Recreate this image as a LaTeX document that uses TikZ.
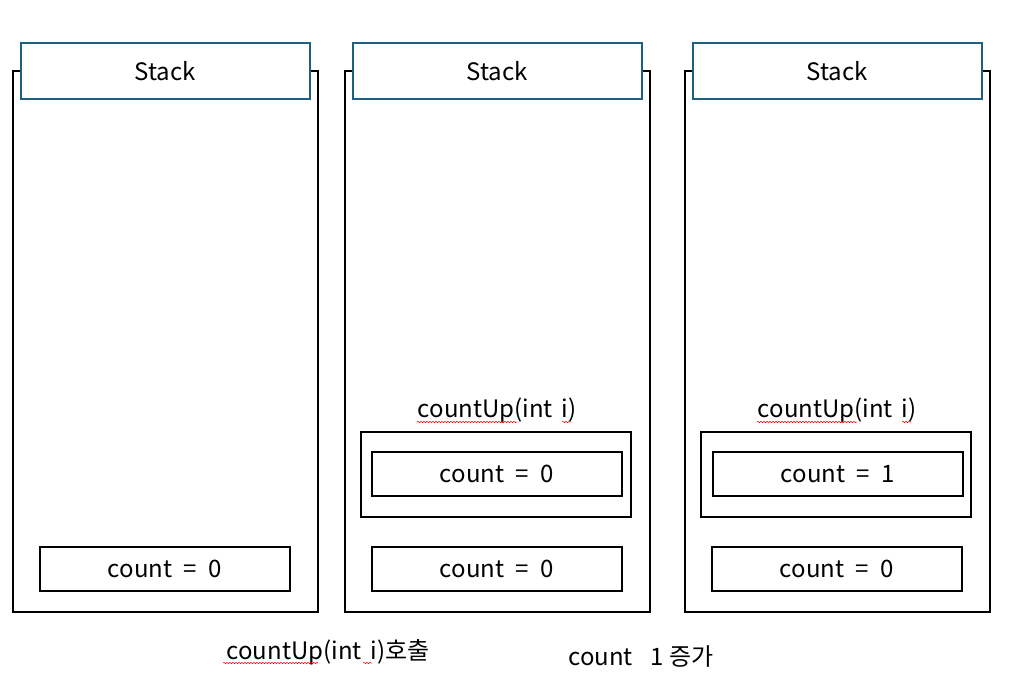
\documentclass[tikz,border=0pt]{standalone}
\usepackage{fontspec}
\setmainfont{Noto Sans CJK KR}
\usetikzlibrary{decorations.pathmorphing}
\definecolor{headblue}{RGB}{30,96,130}
\tikzset{
  txt/.style={font=\fontsize{24}{28}\selectfont},
  panel/.style={draw=black, line width=2pt},
  header/.style={txt, draw=headblue, line width=2pt, fill=white, inner sep=0pt,
    minimum width=289pt, minimum height=56pt},
  cell/.style={txt, draw=black, line width=2pt, fill=white, inner sep=0pt,
    minimum width=250pt, minimum height=44pt},
  frame/.style={draw=black, line width=2pt},
  label/.style={txt, inner sep=0pt},
  squiggle/.style={draw=red, line width=0.5pt,
    decorate, decoration={snake, amplitude=0.7pt, segment length=3pt}}
}
\newcommand{\cnt}[1]{count\hspace{0.48em}=\hspace{0.48em}#1}
\newcommand{\countupsig}{countUp(int\hspace{0.36em}i)}
\begin{document}
\begin{tikzpicture}[x=1pt, y=-1pt]
\useasboundingbox (0,0) rectangle (1010,694);

% three stack panels
\foreach \n/\x in {1/13, 2/345, 3/685} {
  \draw[panel] (\x,71) rectangle (\x+305,612);
  \node[header] (stack\n) at (\x+152,71) {Stack};
  \node[cell] (main\n) at (\x+152,569) {\cnt{0}};
}

% countUp frames on panels 2 and 3
\draw[frame] (361,432) rectangle (631,517);
\node[cell] (cu2) at (497,474) {\cnt{0}};
\node[label] (cu2label) at (497,410) {\countupsig};

\draw[frame] (701,432) rectangle (971,517);
\node[cell] (cu3) at (838,474) {\cnt{1}};
\node[label] (cu3label) at (837,410) {\countupsig};

% captions
\node[label] (cap1) at (328,652) {\countupsig 호출};
\node[label] (cap2) at (641,656) {count\hspace{0.75em}1 증가};

% spell-check underlines
\draw[squiggle] (417,422) -- (517,422);
\draw[squiggle] (562,422) -- (571,422);
\draw[squiggle] (757,422) -- (857,422);
\draw[squiggle] (902,422) -- (911,422);
\draw[squiggle] (223,663) -- (318,663);
\draw[squiggle] (363,663) -- (372,663);
\end{tikzpicture}
\end{document}
